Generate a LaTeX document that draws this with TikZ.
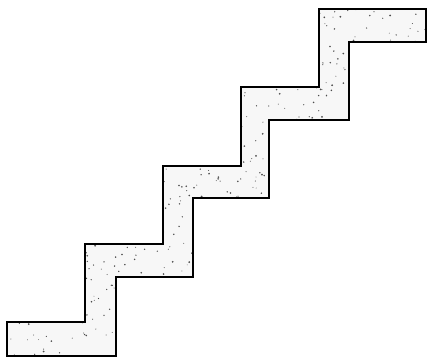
\documentclass[tikz,border=0pt]{standalone}
\usepackage{tikz}
\usetikzlibrary{calc}

\tikzset{
  stairline/.style={black, line width=1.7pt, line join=miter},
  speck/.style={black!70}
}
\newcommand{\stairpath}{(7,2) -- (7,36) -- (85,36) -- (85,114) -- (163,114) -- (163,192)
  -- (241,192) -- (241,271) -- (319,271) -- (319,349) -- (426,349) -- (426,316)
  -- (349,316) -- (349,238) -- (269,238) -- (269,160) -- (193,160) -- (193,81)
  -- (116,81) -- (116,2) -- cycle}

\begin{document}
\begin{tikzpicture}[x=1pt, y=1pt]
    \useasboundingbox (0,0) rectangle (429,358);

    % Staircase fill
    \fill[black!3] \stairpath;

    % Speckles inside the stairs
    \begin{scope}
        \clip \stairpath;
        \pgfmathsetseed{17}
        \foreach \i in {1,...,1300} {
            \fill[speck] (rnd*429, rnd*358) circle (0.4+0.6*rnd);
        }
    \end{scope}

    % Outline
    \draw[stairline] \stairpath;
\end{tikzpicture}
\end{document}
